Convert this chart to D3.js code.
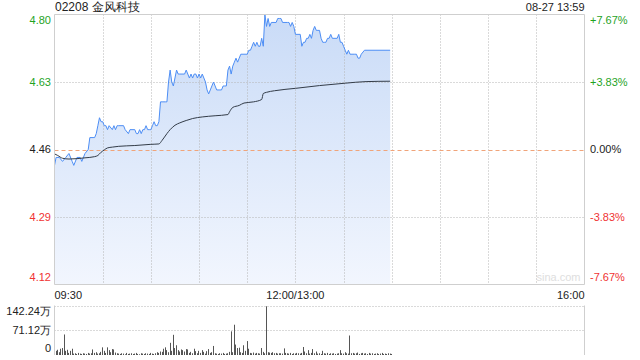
<!DOCTYPE html>
<html>
<head>
<meta charset="utf-8">
<script src="https://cdn.jsdelivr.net/npm/d3@7"></script>
<style>
  body { margin: 0; background: #fff; }
  svg text { font-family: "Liberation Sans", Arial, sans-serif; }
</style>
</head>
<body>
<div id="chart"></div>
<script>
// 02208 intraday, 08-27 up to 13:59

var stockTitle = '02208 金风科技';
var stampText = '08-27 13:59';
var prevClose = 4.46;

// minutes since 09:30, lunch removed (12:00 and 13:00 share minute 150)
var priceMinutes = [0, 1, 3, 5, 7, 9, 11, 12, 14, 16, 17, 19, 21, 22, 24, 25, 26, 27, 28, 29,
  30, 31, 32, 33, 34, 36, 37, 38, 39, 40, 43, 44, 46, 47, 50, 51, 52, 53, 54, 55,
  56, 57, 58, 59, 60, 61, 62, 63, 64, 65, 66, 67, 69, 70, 71, 72, 73, 74, 75, 76,
  77, 78, 81, 82, 83, 84, 85, 86, 87, 88, 89, 90, 91, 92, 93, 94, 95, 96, 97, 98,
  99, 100, 101, 103, 104, 105, 106, 107, 108, 109, 110, 111, 112, 113, 114, 115, 116, 118, 120, 121,
  122, 123, 124, 125, 126, 127, 128, 129, 130, 131, 132, 133, 134, 135, 138, 139, 140, 141, 142, 145,
  146, 147, 148, 149, 150, 151, 153, 154, 155, 156, 157, 158, 159, 160, 161, 162, 163, 164, 165, 166,
  167, 168, 169, 170, 171, 172, 173, 176, 177, 178, 179, 180, 181, 182, 183, 184, 187, 188, 189, 190,
  191, 193, 209];
var prices = [4.42, 4.44, 4.44, 4.43, 4.44, 4.45, 4.43, 4.42, 4.44, 4.44, 4.43, 4.45, 4.46, 4.49, 4.49, 4.49, 4.50, 4.52, 4.54, 4.53,
  4.53, 4.52, 4.52, 4.51, 4.52, 4.51, 4.52, 4.51, 4.52, 4.52, 4.52, 4.51, 4.50, 4.51, 4.51, 4.50, 4.50, 4.51, 4.50, 4.51,
  4.51, 4.52, 4.51, 4.51, 4.51, 4.52, 4.53, 4.52, 4.52, 4.53, 4.58, 4.58, 4.58, 4.58, 4.63, 4.66, 4.63, 4.62, 4.64, 4.66,
  4.65, 4.65, 4.65, 4.66, 4.65, 4.64, 4.65, 4.64, 4.65, 4.65, 4.64, 4.65, 4.64, 4.65, 4.64, 4.63, 4.61, 4.60, 4.61, 4.62,
  4.63, 4.62, 4.61, 4.61, 4.61, 4.62, 4.62, 4.62, 4.66, 4.67, 4.65, 4.67, 4.68, 4.69, 4.68, 4.69, 4.70, 4.70, 4.70, 4.71,
  4.71, 4.72, 4.73, 4.72, 4.73, 4.72, 4.72, 4.74, 4.72, 4.80, 4.77, 4.79, 4.77, 4.78, 4.78, 4.79, 4.79, 4.79, 4.78, 4.78,
  4.78, 4.77, 4.78, 4.77, 4.75, 4.75, 4.75, 4.72, 4.73, 4.73, 4.74, 4.74, 4.75, 4.74, 4.76, 4.77, 4.76, 4.76, 4.76, 4.74,
  4.73, 4.73, 4.73, 4.74, 4.74, 4.75, 4.74, 4.74, 4.75, 4.73, 4.73, 4.72, 4.71, 4.70, 4.71, 4.70, 4.70, 4.70, 4.69, 4.69,
  4.70, 4.71, 4.71];

var avgMinutes = [0, 2, 5, 9, 19, 25, 27, 29, 31, 33, 36, 40, 50, 60, 65, 67, 70, 72, 75, 78,
  82, 86, 92, 100, 108, 109, 111, 115, 118, 124, 129, 130, 132, 137, 150, 165, 181, 194, 209];
var avgPrices = [4.449, 4.445, 4.438, 4.436, 4.439, 4.442, 4.445, 4.453, 4.459, 4.464, 4.466, 4.468, 4.470, 4.473, 4.474, 4.483, 4.500, 4.510, 4.521, 4.527,
  4.533, 4.538, 4.542, 4.545, 4.548, 4.555, 4.566, 4.571, 4.577, 4.580, 4.586, 4.601, 4.604, 4.608, 4.614, 4.621, 4.627, 4.631, 4.632];

// volume per minute, 万 shares
var volumes = [12, 15, 8, 18, 20, 59, 12, 15, 6, 12,
  18, 4, 5, 3, 6, 4, 3, 5, 4, 3,
  6, 4, 5, 16, 6, 8, 4, 5, 9, 22,
  12, 6, 22, 14, 8, 17, 16, 7, 5, 4,
  3, 5, 4, 2, 6, 3, 4, 5, 3, 4,
  6, 3, 2, 5, 4, 3, 5, 4, 3, 6,
  4, 3, 5, 8, 6, 10, 9, 18, 22, 14,
  8, 35, 12, 58, 20, 28, 14, 10, 16, 14,
  10, 17, 16, 6, 9, 5, 18, 11, 5, 12,
  6, 14, 9, 4, 11, 17, 6, 8, 26, 5,
  4, 3, 5, 4, 6, 3, 4, 5, 9, 68,
  8, 87, 30, 20, 21, 8, 6, 28, 12, 40,
  18, 6, 5, 7, 4, 6, 5, 4, 20, 9,
  5, 140, 8, 7, 6, 8, 5, 6, 4, 5,
  5, 4, 19, 6, 5, 4, 6, 3, 5, 4,
  6, 5, 4, 6, 23, 10, 5, 14, 4, 6,
  17, 5, 10, 4, 5, 3, 12, 5, 4, 6,
  3, 5, 4, 5, 3, 4, 5, 14, 5, 4,
  8, 5, 4, 56, 5, 6, 4, 5, 7, 3,
  5, 6, 4, 5, 3, 6, 4, 5, 3, 4,
  5, 3, 4, 6, 3, 4, 3, 5, 4, 3];

var priceTicks = [4.80, 4.63, 4.46, 4.29, 4.12];
var pctTicks = ['+7.67%', '+3.83%', '0.00%', '-3.83%', '-7.67%'];
var timeTickMinutes = [0, 150, 330];
var timeLabels = ['09:30', '12:00/13:00', '16:00'];
var volumeTicks = [142.24, 71.12, 0];
var volumeTickLabels = ['142.24万', '71.12万', '0'];

var width = 640,
  height = 360,
  plotLeft = 54.5,
  plotRight = 584.5,
  plotTop = 14.5,
  plotBottom = 284.5,
  volTop = 305.5,
  volBottom = 355;

var green = '#1fa31f',
  red = '#f03333',
  grid = '#b4b4b4';

var x = d3.scaleLinear().domain([0, 330]).range([plotLeft, plotRight]);
var y = d3.scaleLinear().domain([4.12, 4.80]).range([plotBottom, plotTop]);
var yVol = d3.scaleLinear().domain([0, 142.24]).range([volBottom, volTop]);

var svg = d3.select('#chart').append('svg')
  .attr('width', width)
  .attr('height', height);

var defs = svg.append('defs');
var grad = defs.append('linearGradient')
  .attr('id', 'areaFill')
  .attr('x1', 0).attr('y1', 0).attr('x2', 0).attr('y2', 1);
grad.append('stop').attr('offset', '0%').attr('stop-color', '#c9dbf7');
grad.append('stop').attr('offset', '100%').attr('stop-color', '#f2f6fe');

// price area first, grid drawn over it
var pts = priceMinutes.map(function(m, i) { return { m: m, p: prices[i] }; });

svg.append('path')
  .datum(pts)
  .attr('d', d3.area()
    .x(function(d) { return x(d.m); })
    .y0(plotBottom)
    .y1(function(d) { return y(d.p); }))
  .attr('fill', 'url(#areaFill)');

var vLines = d3.range(1, 11).map(function(i) { return i * 30; });

svg.append('g').selectAll('line')
  .data(vLines)
  .enter().append('line')
  .attr('x1', function(d) { return Math.round(x(d)) + 0.5; })
  .attr('x2', function(d) { return Math.round(x(d)) + 0.5; })
  .attr('y1', plotTop).attr('y2', plotBottom)
  .attr('stroke', grid)
  .attr('stroke-dasharray', '1,2');

svg.append('g').selectAll('line')
  .data([priceTicks[1], priceTicks[3]])
  .enter().append('line')
  .attr('x1', plotLeft).attr('x2', plotRight)
  .attr('y1', function(d) { return Math.round(y(d)) + 0.5; })
  .attr('y2', function(d) { return Math.round(y(d)) + 0.5; })
  .attr('stroke', grid)
  .attr('stroke-dasharray', '1,2');

svg.append('line')
  .attr('x1', plotLeft).attr('x2', plotRight)
  .attr('y1', Math.round(y(prevClose)) + 0.5)
  .attr('y2', Math.round(y(prevClose)) + 0.5)
  .attr('stroke', '#f0a47a')
  .attr('stroke-dasharray', '4,3');

svg.append('path')
  .datum(pts)
  .attr('d', d3.line()
    .x(function(d) { return x(d.m); })
    .y(function(d) { return y(d.p); }))
  .attr('fill', 'none')
  .attr('stroke', '#4d8ef5')
  .attr('stroke-width', 1);

var avgPts = avgMinutes.map(function(m, i) { return { m: m, p: avgPrices[i] }; });

svg.append('path')
  .datum(avgPts)
  .attr('d', d3.line()
    .curve(d3.curveMonotoneX)
    .x(function(d) { return x(d.m); })
    .y(function(d) { return y(d.p); }))
  .attr('fill', 'none')
  .attr('stroke', '#333c48')
  .attr('stroke-width', 1);

// frame
svg.append('path')
  .attr('d', 'M' + plotLeft + ',' + plotBottom + 'V' + plotTop + 'H' + plotRight + 'V' + plotBottom + 'H' + plotLeft)
  .attr('fill', 'none')
  .attr('stroke', '#cfcfcf');

svg.append('text')
  .attr('x', plotRight - 4).attr('y', plotBottom - 4)
  .attr('text-anchor', 'end')
  .attr('font-size', 11)
  .attr('fill', '#dedede')
  .text('sina.com');

// left price labels
function tickColor(i) {
  if (i < 2) return green;
  if (i > 2) return red;
  return '#222';
}
function labelY(v, scale, i, n) {
  var yy = scale(v);
  if (i === 0) return yy + 6;
  if (i === n - 1) return yy - 7;
  return yy;
}

svg.append('g').selectAll('text')
  .data(priceTicks)
  .enter().append('text')
  .attr('x', 51)
  .attr('y', function(d, i) { return labelY(d, y, i, priceTicks.length); })
  .attr('dy', '0.35em')
  .attr('text-anchor', 'end')
  .attr('font-size', 11)
  .attr('fill', function(d, i) { return tickColor(i); })
  .text(function(d) { return d.toFixed(2); });

svg.append('g').selectAll('text')
  .data(pctTicks)
  .enter().append('text')
  .attr('x', 590)
  .attr('y', function(d, i) { return labelY(priceTicks[i], y, i, pctTicks.length); })
  .attr('dy', '0.35em')
  .attr('font-size', 11)
  .attr('fill', function(d, i) { return tickColor(i); })
  .text(function(d) { return d; });

svg.append('text')
  .attr('x', 55).attr('y', 11)
  .attr('font-size', 12)
  .attr('fill', '#222')
  .text(stockTitle);

svg.append('text')
  .attr('x', plotRight).attr('y', 11)
  .attr('text-anchor', 'end')
  .attr('font-size', 11)
  .attr('fill', '#222')
  .text(stampText);

// time labels
svg.append('g').selectAll('text')
  .data(timeLabels)
  .enter().append('text')
  .attr('x', function(d, i) { return x(timeTickMinutes[i]); })
  .attr('y', 299)
  .attr('text-anchor', function(d, i) { return i === 0 ? 'start' : (i === timeLabels.length - 1 ? 'end' : 'middle'); })
  .attr('font-size', 11)
  .attr('fill', '#222')
  .text(function(d) { return d; });

// volume panel
svg.append('g').selectAll('line')
  .data(volumeTicks.slice(0, 2))
  .enter().append('line')
  .attr('x1', plotLeft).attr('x2', plotRight)
  .attr('y1', function(d) { return Math.round(yVol(d)) + 0.5; })
  .attr('y2', function(d) { return Math.round(yVol(d)) + 0.5; })
  .attr('stroke', grid)
  .attr('stroke-dasharray', '1,2');

svg.append('line')
  .attr('x1', plotLeft).attr('x2', plotLeft).attr('y1', volTop).attr('y2', volBottom)
  .attr('stroke', '#cfcfcf');
svg.append('line')
  .attr('x1', plotRight).attr('x2', plotRight).attr('y1', volTop).attr('y2', volBottom)
  .attr('stroke', '#cfcfcf');

svg.append('g').selectAll('rect')
  .data(volumes)
  .enter().append('rect')
  .attr('x', function(d, i) { return Math.round(x(i)) + 1; })
  .attr('width', 1)
  .attr('y', function(d) { return yVol(d); })
  .attr('height', function(d) { return volBottom - yVol(d); })
  .attr('fill', '#555');

svg.append('g').selectAll('text')
  .data(volumeTickLabels)
  .enter().append('text')
  .attr('x', 51)
  .attr('y', function(d, i) { return labelY(volumeTicks[i], yVol, i, volumeTicks.length); })
  .attr('dy', '0.35em')
  .attr('text-anchor', 'end')
  .attr('font-size', 11)
  .attr('fill', '#222')
  .text(function(d) { return d; });
</script>
</body>
</html>
